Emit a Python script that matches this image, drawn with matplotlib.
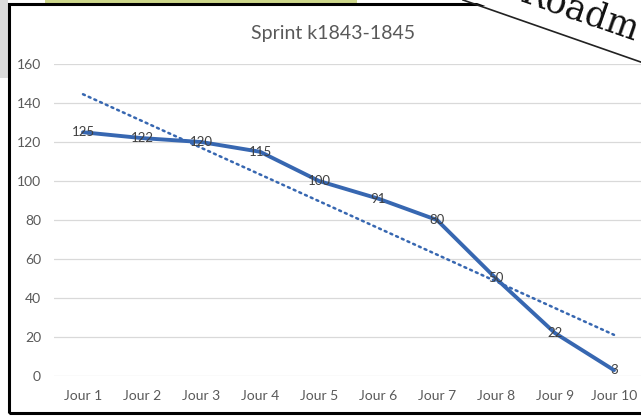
import numpy as np
import matplotlib
matplotlib.use('Agg')
import matplotlib.pyplot as plt
from matplotlib.patches import Rectangle, Polygon
from matplotlib.lines import Line2D

plt.rcParams['font.family'] = ['Lato', 'DejaVu Sans']

jours = ['Jour 1', 'Jour 2', 'Jour 3', 'Jour 4', 'Jour 5',
         'Jour 6', 'Jour 7', 'Jour 8', 'Jour 9', 'Jour 10']
restant = [125, 122, 120, 115, 100, 91, 80, 50, 22, 3]
y_ticks = [0, 20, 40, 60, 80, 100, 120, 140, 160]

W, H = 641, 419
blue = '#3767b1'
grey_txt = '#595959'

fig = plt.figure(figsize=(W / 100, H / 100), dpi=100)
fig.patch.set_facecolor('white')


def box(x0, y0, x1, y1, **kw):
    # rectangle given in pixels from the top-left corner
    r = Rectangle((x0 / W, 1 - y1 / H), (x1 - x0) / W, (y1 - y0) / H,
                  transform=fig.transFigure, **kw)
    fig.add_artist(r)
    return r


# bits of the sheet behind the chart
box(0, 0, 8, 78, facecolor='#dcdcdc', edgecolor='none', zorder=0)
box(45, 0, 357, 4, facecolor='#cdd78a', edgecolor='none', zorder=0)

ax = fig.add_axes([53.5 / W, 1 - 376 / H, 590 / W, 312 / H])
x = np.arange(len(jours))

ax.plot(x, restant, color=blue, lw=2.8, solid_joinstyle='round',
        solid_capstyle='round', zorder=3)

# linear trendline
a, b = np.polyfit(x, restant, 1)
ax.plot(x, a * x + b, color=blue, lw=1.8, linestyle=(0, (0.8, 1.7)),
        dash_capstyle='round', zorder=2)

for xi, v in zip(x, restant):
    ax.text(xi, v, str(v), ha='center', va='center', fontsize=9.5,
            color='#404040', zorder=4)

ax.set_xlim(-0.5, len(jours) - 0.5)
ax.set_ylim(0, 160)
ax.set_yticks(y_ticks)
ax.set_xticks(x)
ax.set_xticklabels(jours)
ax.tick_params(axis='both', length=0, labelsize=10, labelcolor=grey_txt)
ax.tick_params(axis='y', pad=9)
ax.tick_params(axis='x', pad=10)
ax.grid(axis='y', color='#d9d9d9', lw=0.9)
ax.set_axisbelow(True)
for s in ax.spines.values():
    s.set_visible(False)

fig.text(333 / W, 1 - 34 / H, 'Sprint k1843-1845', ha='center', va='center',
         fontsize=14, color=grey_txt)

# chart frame
box(8.5, 4.5, 700, 413, facecolor='none', edgecolor='black', lw=2.2, zorder=5)

# paper sheet lying over the top right corner
sheet = Polygon([(463 / W, 1 + 2 / H), (645 / W, 1 + 2 / H), (645 / W, 1 - 63.5 / H)],
                closed=True, transform=fig.transFigure, facecolor='white',
                edgecolor='none', zorder=6)
fig.add_artist(sheet)
fig.add_artist(Line2D([463 / W, 645 / W], [1, 1 - 63.5 / H],
                      transform=fig.transFigure, color='#222222', lw=1.2, zorder=7))
fig.text(518 / W, 1 - 1 / H, 'Roadm', rotation=-19.2, rotation_mode='anchor',
         ha='left', va='baseline', fontsize=25, family='DejaVu Serif',
         color='#111111', zorder=8)

fig.savefig('out.png', dpi=100)
